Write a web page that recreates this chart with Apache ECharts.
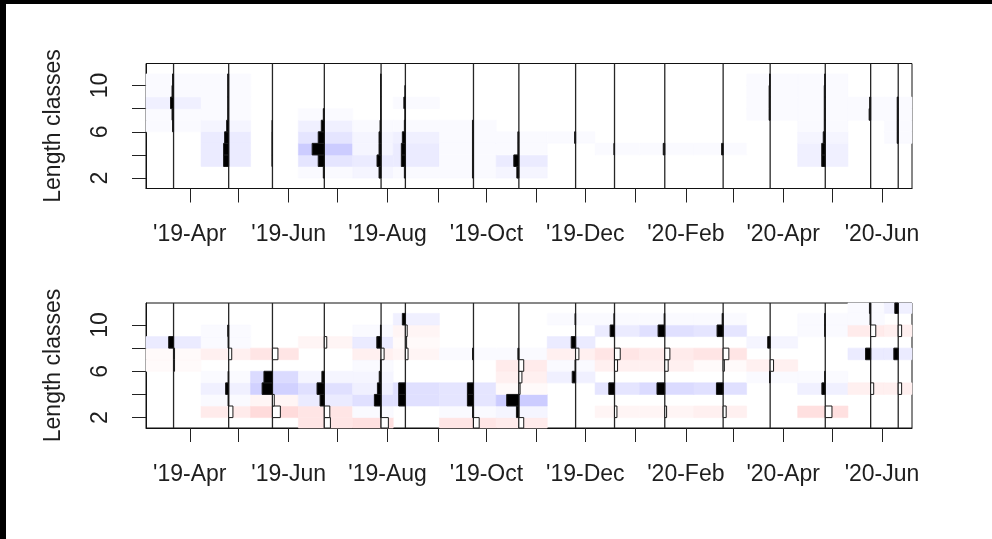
<!DOCTYPE html>
<html>
<head>
<meta charset="utf-8">
<script src="https://cdn.jsdelivr.net/npm/echarts@6/dist/echarts.min.js"></script>
<style>
  html, body { margin: 0; padding: 0; background: #fff; }
  #chart { width: 992px; height: 539px; }
</style>
</head>
<body>
<div id="chart"></div>
<script>
// Sampling dates of the length-frequency data
const sampleDates = ['2019-03-22', '2019-04-25', '2019-05-22', '2019-06-23', '2019-07-28', '2019-08-12',
  '2019-09-23', '2019-10-21', '2019-11-25', '2019-12-19', '2020-01-19', '2020-02-24',
  '2020-03-24', '2020-04-27', '2020-05-25', '2020-06-11'];

// Lower bounds of the length classes (each class is 1 unit wide)
const lengthClasses = [1, 2, 3, 4, 5, 6, 7, 8, 9, 10, 11];

// Catch per length class, one row per sample (classes 1..11)
const catchCounts = [
  [0, 0, 0, 0, 0, 1, 1.5, 3, 1.5, 1, 0],
  [0, 0, 5, 5, 4, 2, 1, 1, 1, 1, 0],
  [0, 0, 0.5, 0.5, 0.5, 0.4, 0, 0, 0, 0, 0],
  [0, 1, 6, 12, 6, 3, 1, 0, 0, 0, 0],
  [0, 2, 4, 2, 2, 1, 0.5, 0.5, 0.5, 0.5, 0],
  [0, 1, 4, 4, 3, 1, 0.5, 1.5, 0.5, 0, 0],
  [0, 1, 1, 1, 1, 1, 0, 0, 0, 0, 0],
  [0, 2, 5, 1, 1, 0, 0, 0, 0, 0, 0],
  [0, 0, 0, 0, 1, 0, 0, 0, 0, 0, 0],
  [0, 0, 0, 0.6, 0, 0, 0, 0, 0, 0, 0],
  [0, 0, 0, 1.5, 0, 0, 0, 0, 0, 0, 0],
  [0, 0, 0, 1.5, 0, 0, 0, 0, 0, 0, 0],
  [0, 0, 0, 0, 0, 0, 1, 1, 1, 0.6, 0],
  [0, 0, 3.5, 3.5, 2, 1, 1, 1, 1, 0.6, 0],
  [0, 0, 0, 0, 0, 0, 1.5, 1, 0, 0, 0],
  [0, 0, 0, 0, 1, 1, 1, 1, 0, 0, 0]
];

// Restructured scores per length class, one row per sample (classes 1..11)
const restructuredScores = [
  [0, 0, 0, 0, 0, -0.08, -0.08, 0.4, 0, 0, 0],
  [0, -0.35, 0.05, 0.25, 0.05, 0, -0.25, 0.05, 0.08, 0, 0],
  [0, -0.65, -0.15, 0.85, 0.7, 0, -0.45, 0, 0, 0, 0],
  [-0.5, -0.45, 0.35, 0.6, 0.2, 0, 0, -0.2, 0, 0, 0],
  [-0.6, 0.05, 0.55, 0.3, 0.15, 0.05, -0.25, 0.35, 0.05, 0, 0],
  [0, 0, 0.55, 0.55, 0, 0, -0.22, -0.1, -0.15, 0.25, 0],
  [-0.47, 0.08, 0.5, 0.5, 0, 0, 0.08, 0, 0, 0, 0],
  [-0.4, 0.2, 1.0, -0.1, -0.25, -0.4, 0.08, 0, 0, 0, 0],
  [0, 0, 0, 0, 0.28, 0.05, -0.27, 0.36, 0, 0.05, 0],
  [0, -0.2, 0, 0.47, 0, -0.25, -0.47, 0, 0.36, 0.05, 0],
  [0, -0.15, 0, 0.64, 0, -0.28, -0.42, 0, 0.55, 0.05, 0],
  [0, -0.25, 0, 0.55, 0, -0.1, -0.47, 0, 0.5, 0.08, 0],
  [0, 0, 0, 0, 0.05, -0.28, 0, 0.2, 0, 0, 0],
  [0, -0.55, 0, 0.28, 0.05, 0, 0, 0, 0.05, 0.05, 0],
  [0, 0, 0, -0.25, 0, 0, 0.42, 0, -0.42, 0.05, 0.1],
  [0, 0, 0, -0.28, 0, 0, 0.36, 0, -0.28, 0, 0.28]
];

// Axis ticks and labels
const xTickDates = ['2019-04-01', '2019-05-01', '2019-06-01', '2019-07-01', '2019-08-01', '2019-09-01',
  '2019-10-01', '2019-11-01', '2019-12-01', '2020-01-01', '2020-02-01', '2020-03-01',
  '2020-04-01', '2020-05-01', '2020-06-01'];
const xLabelDates = ['2019-04-01', '2019-06-01', '2019-08-01', '2019-10-01', '2019-12-01',
  '2020-02-01', '2020-04-01', '2020-06-01'];
const xLabelTexts = ["'19-Apr", "'19-Jun", "'19-Aug", "'19-Oct", "'19-Dec", "'20-Feb", "'20-Apr", "'20-Jun"];
const yTickValues = [2, 4, 6, 8, 10];
const yLabelValues = [2, 6, 10];
const yAxisTitle = 'Length classes';

// ---------------------------------------------------------------------------
const ts = d => new Date(d + 'T00:00:00Z').getTime();
const dateTs = sampleDates.map(ts);
const labelTs = xLabelDates.map(ts);

// cell edges along time: midpoints between samples, outer edges mirrored
const edges = [];
edges.push(dateTs[0] - (dateTs[1] - dateTs[0]) / 2);
for (let i = 0; i < dateTs.length - 1; i++) edges.push((dateTs[i] + dateTs[i + 1]) / 2);
edges.push(dateTs[dateTs.length - 1] + (dateTs[dateTs.length - 1] - dateTs[dateTs.length - 2]) / 2);

// y range: class mid-points padded by 4%
const mids = lengthClasses.map(c => c + 0.5);
const midSpan = mids[mids.length - 1] - mids[0];
const yMin = mids[0] - 0.04 * midSpan;
const yMax = mids[mids.length - 1] + 0.04 * midSpan;

// smallest gap between samples sets the histogram width
let minGap = Infinity;
for (let i = 1; i < dateTs.length; i++) minGap = Math.min(minGap, dateTs[i] - dateTs[i - 1]);
const histSc = 0.5;

// 21-step palette: light red -> white -> light blue
function paletteColor(z, zmax) {
  let level = Math.round(10.5 * z / zmax);
  level = Math.max(-10, Math.min(10, level));
  if (level === 0) return null;
  const d = Math.round(5.1 * Math.abs(level));
  return level > 0 ? `rgb(${255 - d},${255 - d},255)` : `rgb(255,${255 - d},${255 - d})`;
}

function buildData(matrix) {
  const out = [];
  matrix.forEach((row, i) => row.forEach((z, j) => {
    if (z !== 0) out.push([dateTs[i], lengthClasses[j], z, i]);
  }));
  return out;
}

function maxAbs(matrix) {
  let m = 0;
  matrix.forEach(r => r.forEach(v => { m = Math.max(m, Math.abs(v)); }));
  return m;
}

function clipToGrid(rect, cs) {
  return echarts.graphic.clipRectByRect(rect, { x: cs.x, y: cs.y, width: cs.width, height: cs.height });
}

function cellRenderer(zmax) {
  return function (params, api) {
    const i = api.value(3), b = api.value(1), z = api.value(2);
    const fill = paletteColor(z, zmax);
    if (!fill) return null;
    const p0 = api.coord([edges[i], b + 1]);
    const p1 = api.coord([edges[i + 1], b]);
    const shape = clipToGrid({ x: p0[0], y: p0[1], width: p1[0] - p0[0], height: p1[1] - p0[1] }, params.coordSys);
    if (!shape) return null;
    return { type: 'rect', shape, style: { fill, stroke: fill, lineWidth: 0.6 } };
  };
}

function barRenderer(zmax) {
  const scale = minGap * histSc / zmax;
  return function (params, api) {
    const t = api.value(0), b = api.value(1), z = api.value(2);
    const pa = api.coord([t - z * scale, b + 1]);
    const pb = api.coord([t, b]);
    const x = Math.min(pa[0], pb[0]);
    const w = Math.abs(pb[0] - pa[0]);
    const shape = clipToGrid({ x, y: pa[1], width: Math.max(w, 0.01), height: pb[1] - pa[1] }, params.coordSys);
    if (!shape) return null;
    return {
      type: 'rect', shape,
      style: { fill: z > 0 ? '#000' : '#fff', stroke: '#1a1a1a', lineWidth: 1 }
    };
  };
}

function lineRenderer(params, api) {
  const t = api.value(0);
  const a = api.coord([t, yMax]);
  const b = api.coord([t, yMin]);
  return { type: 'line', shape: { x1: a[0], y1: a[1], x2: b[0], y2: b[1] }, style: { stroke: '#262626', lineWidth: 1.3 } };
}

const font = 'Liberation Sans, Arial, Helvetica, sans-serif';
const txt = '#1e1e1e';

function xAxisFor(gridIndex) {
  return {
    type: 'value', gridIndex,
    min: edges[0], max: edges[edges.length - 1],
    axisLine: { show: true, lineStyle: { color: '#111', width: 1 } },
    axisTick: { show: true, length: 14, customValues: xTickDates.map(ts), lineStyle: { color: '#222', width: 1 } },
    axisLabel: {
      show: true, customValues: labelTs, margin: 35,
      fontFamily: font, fontSize: 23, color: txt,
      formatter: v => {
        const k = labelTs.indexOf(v);
        return k >= 0 ? xLabelTexts[k] : '';
      }
    },
    splitLine: { show: false }
  };
}

function yAxisFor(gridIndex) {
  return {
    type: 'value', gridIndex, min: yMin, max: yMax,
    name: yAxisTitle, nameLocation: 'middle', nameGap: 81,
    nameTextStyle: { fontFamily: font, fontSize: 23, color: txt },
    axisLine: { show: true, lineStyle: { color: '#111', width: 1 } },
    axisTick: { show: true, length: 14, customValues: yTickValues, lineStyle: { color: '#222', width: 1 } },
    axisLabel: {
      show: true, customValues: yLabelValues, rotate: 90, margin: 34,
      fontFamily: font, fontSize: 23, color: txt
    },
    splitLine: { show: false }
  };
}

const zTop = maxAbs(catchCounts);
const zBottom = maxAbs(restructuredScores);
const lineData = dateTs.map(t => [t, yMin]);

function panelSeries(idx, matrix, zmax) {
  const data = buildData(matrix);
  return [
    { type: 'custom', xAxisIndex: idx, yAxisIndex: idx, renderItem: cellRenderer(zmax), data, z: 1, silent: true },
    { type: 'custom', xAxisIndex: idx, yAxisIndex: idx, renderItem: lineRenderer, data: lineData, z: 2, silent: true },
    { type: 'custom', xAxisIndex: idx, yAxisIndex: idx, renderItem: barRenderer(zmax), data, z: 3, silent: true }
  ];
}

const chart = echarts.init(document.getElementById('chart'), null, { renderer: 'canvas' });
chart.setOption({
  animation: false,
  backgroundColor: '#fff',
  grid: [
    { left: 146, top: 63.5, width: 766, height: 125, show: true, borderColor: '#111', borderWidth: 1, backgroundColor: 'transparent' },
    { left: 146, top: 303, width: 766, height: 125, show: true, borderColor: '#111', borderWidth: 1, backgroundColor: 'transparent' }
  ],
  xAxis: [xAxisFor(0), xAxisFor(1)],
  yAxis: [yAxisFor(0), yAxisFor(1)],
  series: [
    ...panelSeries(0, catchCounts, zTop),
    ...panelSeries(1, restructuredScores, zBottom)
  ],
  graphic: [
    { type: 'rect', left: 0, top: 0, shape: { width: 6, height: 539 }, style: { fill: '#000' }, z: 100 },
    { type: 'rect', left: 0, top: 0, shape: { width: 992, height: 4 }, style: { fill: '#000' }, z: 100 }
  ]
});
</script>
</body>
</html>
